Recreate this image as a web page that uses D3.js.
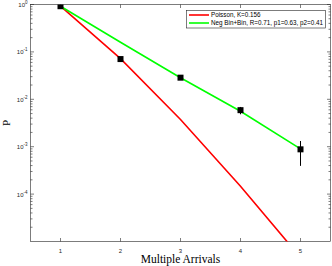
<!DOCTYPE html>
<html>
<head>
<meta charset="utf-8">
<script src="https://cdn.jsdelivr.net/npm/d3@7"></script>
<style>
  body { margin: 0; background: #fff; }
  svg { display: block; }
  text { font-family: "Liberation Sans", Arial, sans-serif; }
</style>
</head>
<body>
<div id="chart"></div>
<script>
// data
const arrivals = [1, 2, 3, 4, 5];
const measured = [0.92, 0.0706, 0.0286, 0.0059, 0.00088];
const errLow = [0.91, 0.069, 0.0278, 0.00483, 0.000394];
const errHigh = [0.93, 0.072, 0.0294, 0.00689, 0.00132];
const poisson = [0.924, 0.0721, 0.00375, 0.000146, 0.0000046];
const negBin = [0.92, 0.16, 0.0285, 0.0056, 0.0009];
const yTicks = [1e-4, 1e-3, 1e-2, 1e-1, 1];
const yTickExp = ["-4", "-3", "-2", "-1", "0"];
const legendLabels = ["Poisson, K=0.156", "Neg Bin+Bin, R=0.71, p1=0.63, p2=0.41"];
const lineColors = ["#ff0000", "#00ff00"];

const W = 332, H = 266;
const m = {left: 30.5, right: 1.5, top: 4.5, bottom: 24.5};
const axisCol = "#262626";

const svg = d3.select("#chart").append("svg").attr("width", W).attr("height", H);

const x = d3.scaleLinear().domain([0.5, 5.5]).range([m.left, W - m.right]);
const y = d3.scaleLog().domain([1e-5, 1]).range([H - m.bottom, m.top]);

svg.append("defs").append("clipPath").attr("id", "clip")
  .append("rect").attr("x", m.left).attr("y", m.top)
  .attr("width", W - m.right - m.left).attr("height", H - m.bottom - m.top);

// minor log ticks
const minor = [];
for (let e = -5; e < 0; e++) for (let k = 2; k <= 9; k++) minor.push(k * Math.pow(10, e));

const ax = svg.append("g").attr("stroke", axisCol).attr("stroke-width", 0.6);
minor.forEach(v => {
  ax.append("line").attr("x1", m.left).attr("x2", m.left + 2).attr("y1", y(v)).attr("y2", y(v));
  ax.append("line").attr("x1", W - m.right).attr("x2", W - m.right - 2).attr("y1", y(v)).attr("y2", y(v));
});
yTicks.forEach(v => {
  ax.append("line").attr("x1", m.left).attr("x2", m.left + 3.5).attr("y1", y(v)).attr("y2", y(v));
  ax.append("line").attr("x1", W - m.right).attr("x2", W - m.right - 3.5).attr("y1", y(v)).attr("y2", y(v));
});
arrivals.forEach(v => {
  ax.append("line").attr("x1", x(v)).attr("x2", x(v)).attr("y1", H - m.bottom).attr("y2", H - m.bottom - 3.5);
  ax.append("line").attr("x1", x(v)).attr("x2", x(v)).attr("y1", m.top).attr("y2", m.top + 3.5);
});
ax.append("rect").attr("x", m.left).attr("y", m.top)
  .attr("width", W - m.right - m.left).attr("height", H - m.bottom - m.top)
  .attr("fill", "none");

// tick labels
svg.selectAll(".xl").data(arrivals).join("text")
  .attr("x", d => x(d)).attr("y", H - m.bottom + 11)
  .attr("text-anchor", "middle").attr("font-size", 6).attr("fill", axisCol)
  .text(d => d);

const yl = svg.selectAll(".yl").data(yTicks).join("text")
  .attr("x", m.left - 3).attr("y", d => y(d) + 2.5)
  .attr("text-anchor", "end").attr("font-size", 6).attr("fill", axisCol);
yl.append("tspan").text("10");
yl.append("tspan").attr("dy", -3).attr("font-size", 4.5).text((d, i) => yTickExp[i]);

// axis titles
svg.append("text").attr("x", (m.left + W - m.right) / 2).attr("y", H - 3.5)
  .attr("text-anchor", "middle").attr("font-size", 11.5)
  .style("font-family", "'Liberation Serif', 'DejaVu Serif', serif").attr("fill", "#000")
  .text("Multiple Arrivals");
svg.append("text").attr("transform", `translate(10,${(m.top + H - m.bottom) / 2}) rotate(-90)`)
  .attr("text-anchor", "middle").attr("font-size", 11)
  .style("font-family", "'Liberation Serif', 'DejaVu Serif', serif").attr("fill", "#000")
  .text("P");

// model lines
const line = d3.line().x((d, i) => x(arrivals[i])).y(d => y(d));
const plot = svg.append("g").attr("clip-path", "url(#clip)");
[poisson, negBin].forEach((s, i) => {
  plot.append("path").datum(s).attr("d", line)
    .attr("fill", "none").attr("stroke", lineColors[i]).attr("stroke-width", 1.6);
});

// measured points with error bars
plot.selectAll(".eb").data(arrivals).join("line")
  .attr("x1", d => x(d)).attr("x2", d => x(d))
  .attr("y1", (d, i) => y(errLow[i])).attr("y2", (d, i) => y(errHigh[i]))
  .attr("stroke", "#000").attr("stroke-width", 1);
plot.selectAll(".pt").data(arrivals).join("rect")
  .attr("x", d => x(d) - 3).attr("y", (d, i) => y(measured[i]) - 3)
  .attr("width", 6).attr("height", 6).attr("fill", "#000");

// legend
const lg = svg.append("g");
lg.append("rect").attr("x", 186.5).attr("y", 10.5).attr("width", 139).attr("height", 17.5)
  .attr("fill", "#fff").attr("stroke", axisCol).attr("stroke-width", 0.6);
legendLabels.forEach((t, i) => {
  const ly = 15 + i * 8;
  lg.append("line").attr("x1", 189).attr("x2", 209).attr("y1", ly).attr("y2", ly)
    .attr("stroke", lineColors[i]).attr("stroke-width", 1.6);
  lg.append("text").attr("x", 211).attr("y", ly + 2.1).attr("font-size", 6.3).attr("fill", "#000").text(t);
});
</script>
</body>
</html>
